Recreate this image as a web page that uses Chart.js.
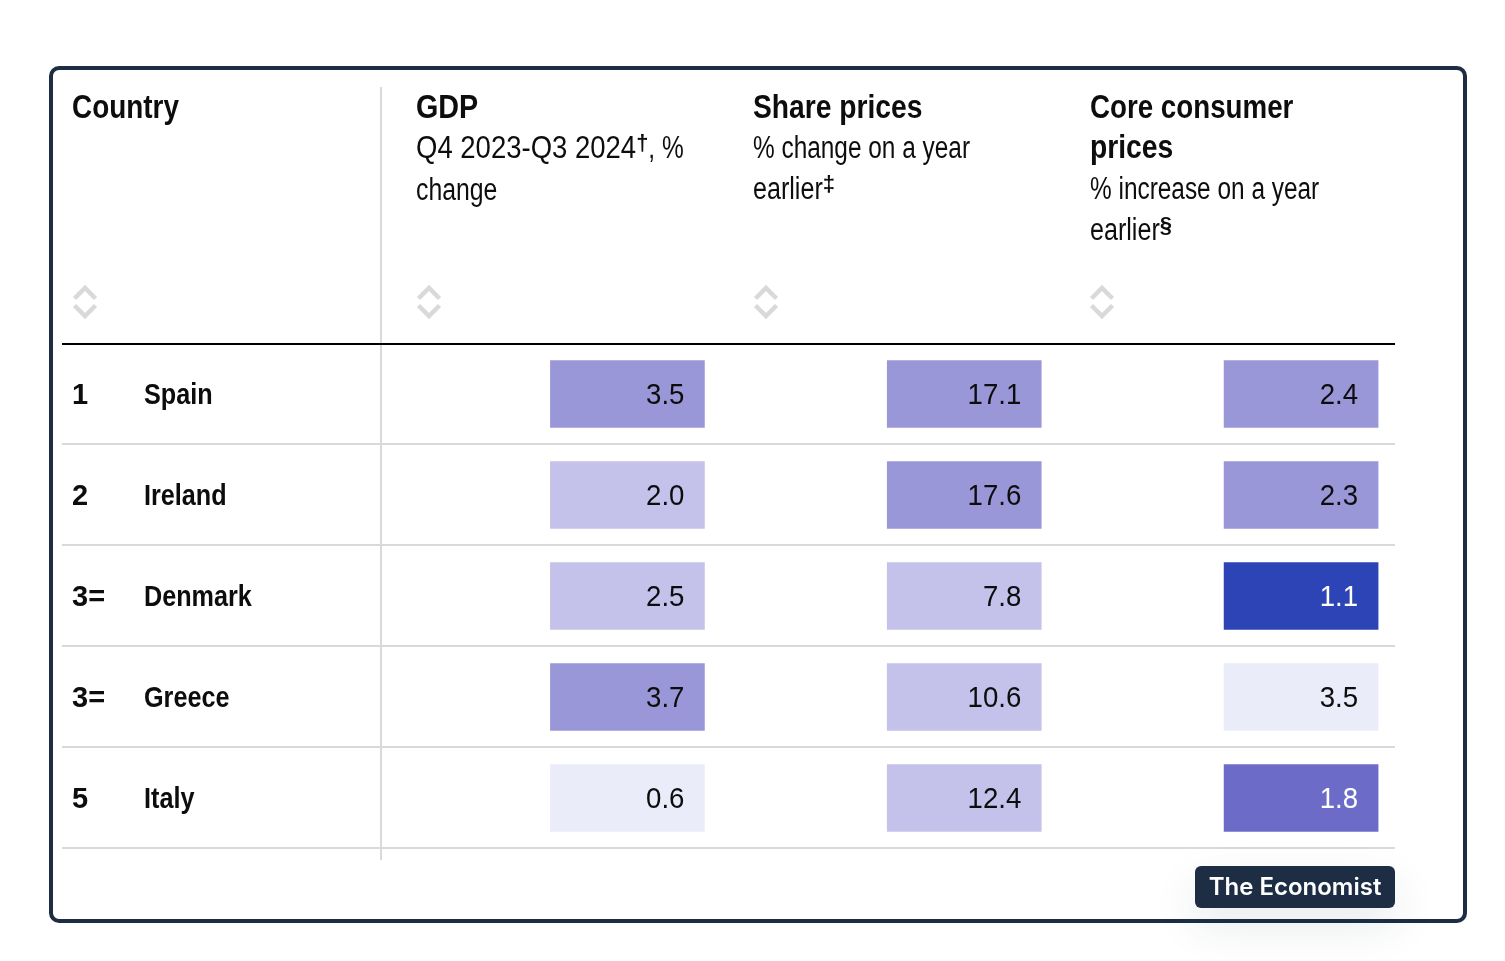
<!DOCTYPE html>
<html><head><meta charset="utf-8">
<style>html,body{margin:0;padding:0;background:#fff}canvas{display:block}</style>
<script src="https://cdn.jsdelivr.net/npm/chart.js@4"></script></head>
<body><canvas id="c" width="1505" height="961"></canvas>
<script>
const countries = ['Spain','Ireland','Denmark','Greece','Italy'];
const ranks = ['1','2','3=','3=','5'];
const metrics = ['GDP','Share prices','Core consumer prices'];
const gdp = ['3.5','2.0','2.5','3.7','0.6'];
const sharePrices = ['17.1','17.6','7.8','10.6','12.4'];
const corePrices = ['2.4','2.3','1.1','3.5','1.8'];
const gdpShade = [2,1,1,2,0];
const shareShade = [2,2,1,1,1];
const coreShade = [2,2,4,0,3];
const shades = ['#EBECF9','#C4C1EA','#9A97D9','#6C6CC8','#2C44B5'];
const inks = ['#0D0D0D','#0D0D0D','#0D0D0D','#FFFFFF','#FFFFFF'];
const values = [gdp, sharePrices, corePrices];
const shadeTable = [gdpShade, shareShade, coreShade];
const headX = [416, 753, 1090];
const SANS = '"Liberation Sans",sans-serif';

function run(ctx, x, y, parts){ // parts: [text, font, horizontal scale, rise]
  ctx.textAlign='left';ctx.textBaseline='alphabetic';
  parts.forEach(p=>{
    const k=p[2],r=p[3]||0;
    ctx.font=p[1];
    ctx.save();ctx.translate(x,y-r);ctx.scale(k,1);ctx.fillText(p[0],0,0);ctx.restore();
    x+=ctx.measureText(p[0]).width*k;
  });
}
function chevrons(ctx,cx){
  ctx.strokeStyle='#D9D9D9';ctx.lineWidth=4.5;ctx.lineCap='butt';ctx.lineJoin='miter';
  ctx.beginPath();ctx.moveTo(cx-10.5,298.5);ctx.lineTo(cx,288);ctx.lineTo(cx+10.5,298.5);ctx.stroke();
  ctx.beginPath();ctx.moveTo(cx-10.5,305.5);ctx.lineTo(cx,316);ctx.lineTo(cx+10.5,305.5);ctx.stroke();
}
function rr(ctx,x,y,w,h,r){ctx.beginPath();ctx.roundRect(x,y,w,h,r);}

const tablePlugin = {
  id:'table',
  beforeDatasetsDraw(chart){
    const ctx=chart.ctx,yS=chart.scales.y;
    ctx.save();
    ctx.fillStyle='#fff';ctx.fillRect(0,0,1505,961);
    ctx.strokeStyle='#1C2D44';ctx.lineWidth=4;rr(ctx,51,68,1414,853,8);ctx.stroke();
    ctx.fillStyle='#D9D9D9';
    ctx.fillRect(380,87,2,773);
    countries.forEach((c,i)=>{ctx.fillRect(62,Math.floor(yS.getPixelForValue(i+1))-1,1333,2);});
    ctx.fillStyle='#000';ctx.fillRect(62,343,1333,2);
    // rows
    ctx.fillStyle='#0D0D0D';
    countries.forEach((c,i)=>{
      const y=yS.getPixelForValue(i+0.5)+10;
      run(ctx,72,y,[[ranks[i],'700 29px '+SANS,1]]);
      run(ctx,144,y,[[c,'700 30px '+SANS,0.84]]);
    });
    // headers
    const B='700 33px '+SANS, R='400 31px '+SANS, S='700 22px '+SANS;
    run(ctx,72,118,[['Country',B,.845]]);
    run(ctx,headX[0],118,[[metrics[0],B,.87]]);
    run(ctx,headX[0],158,[['Q4 2023-Q3 2024',R,.887],['†',S,1,8],[', %',R,.79]]);
    run(ctx,headX[0],200,[['change',R,.8]]);
    run(ctx,headX[1],118,[[metrics[1],B,.855]]);
    run(ctx,headX[1],158,[['% change on a year',R,.787]]);
    run(ctx,headX[1],199,[['earlier',R,.81],['‡',S,1,8]]);
    run(ctx,headX[2],118,[['Core consumer',B,.84]]);
    run(ctx,headX[2],158,[['prices',B,.856]]);
    run(ctx,headX[2],199,[['% increase on a year',R,.787]]);
    run(ctx,headX[2],240,[['earlier',R,.81],['§',S,1,8]]);
    [85,429,766,1102].forEach(x=>chevrons(ctx,x));
    ctx.restore();
  },
  afterDatasetsDraw(chart){
    const ctx=chart.ctx;
    ctx.save();
    // cell values, placed from the bar elements
    chart.data.datasets.forEach((ds,i)=>{
      chart.getDatasetMeta(i).data.forEach((bar,j)=>{
        ctx.fillStyle=inks[shadeTable[j][i]];
        ctx.font='400 30px '+SANS;
        ctx.textAlign='right';ctx.textBaseline='middle';
        ctx.save();
        ctx.translate(bar.x+bar.width/2-20,(bar.y+bar.base)/2+1.5);
        ctx.scale(0.92,1);
        ctx.fillText(values[j][i],0,0);
        ctx.restore();
      });
    });
    // tag
    ctx.save();
    ctx.shadowColor='rgba(28,45,68,0.10)';ctx.shadowBlur=44;ctx.shadowOffsetY=18;
    ctx.fillStyle='#1C2D44';rr(ctx,1195,866,200,42,6);ctx.fill();
    ctx.restore();
    ctx.fillStyle='#fff';ctx.font='600 24px Inter,sans-serif';
    ctx.textAlign='center';ctx.textBaseline='middle';
    ctx.fillText('The Economist',1295,888);
    ctx.restore();
  }
};

new Chart(document.getElementById('c'),{
  type:'bar',
  data:{
    labels:metrics,
    datasets:countries.map((c,i)=>({
      label:c,
      data:metrics.map(()=>[i+0.17,i+0.83]),
      backgroundColor:shadeTable.map(col=>shades[col[i]]),
      barThickness:154,
      grouped:false
    }))
  },
  plugins:[tablePlugin],
  options:{
    responsive:false,animation:false,
    layout:{padding:{left:459,right:35.5,top:343.5,bottom:112.5}},
    plugins:{legend:{display:false},tooltip:{enabled:false},title:{display:false}},
    scales:{
      x:{type:'category',display:false,grid:{display:false}},
      y:{type:'linear',reverse:true,min:0,max:5,display:false,grid:{display:false}}
    }
  }
});
</script></body></html>
